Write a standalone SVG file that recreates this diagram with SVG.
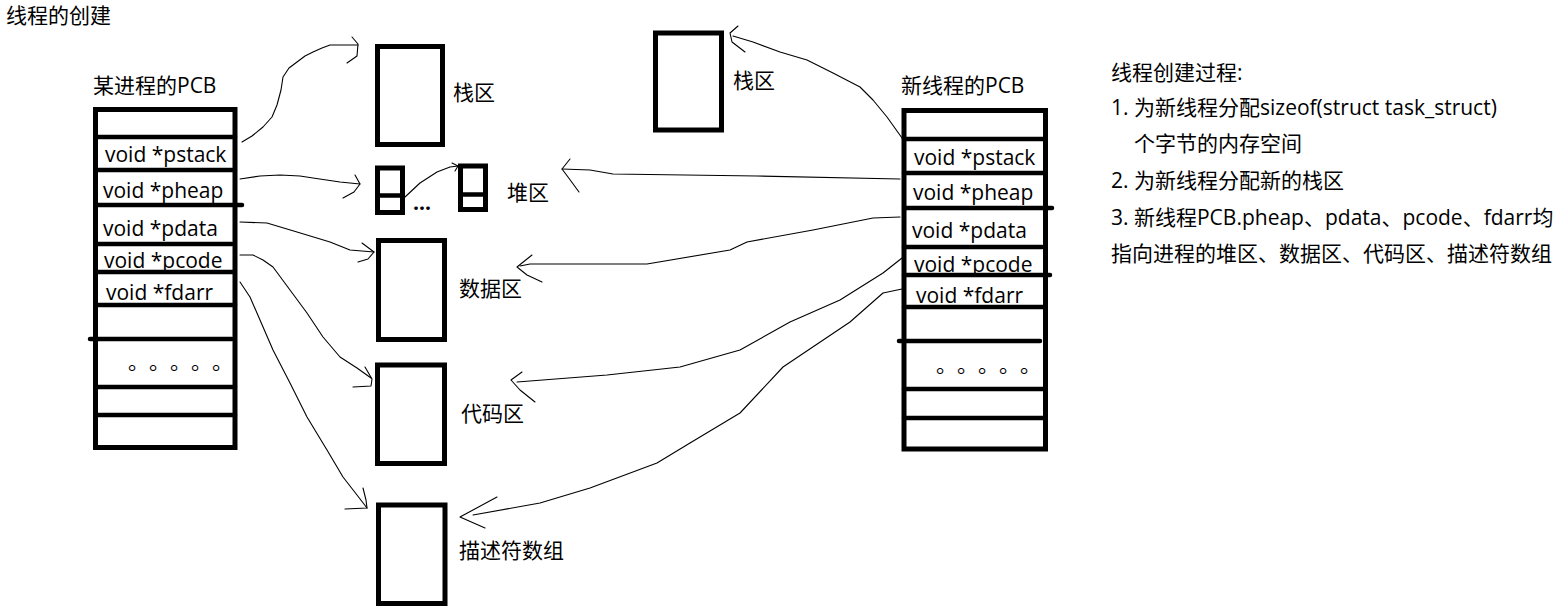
<svg xmlns="http://www.w3.org/2000/svg" width="1566" height="615" viewBox="0 0 1566 615">
<style>
text{font-family:"Open Sans","Noto Sans CJK SC",sans-serif;font-size:21px;fill:#000}
.box{fill:none;stroke:#000;stroke-width:5}
.row{stroke:#000;stroke-width:4.5;stroke-linecap:round}
.conn{fill:none;stroke:#000;stroke-width:1.1;stroke-linejoin:round;stroke-linecap:round}
</style>
<rect width="1566" height="615" fill="#fff"/>
<text id="title" x="6" y="23">线程的创建</text>

<g id="pcb-left">
<text x="93" y="93">某进程的PCB</text>
<rect class="box" x="95.5" y="109.5" width="139.5" height="338"/>
<line class="row" x1="95.5" y1="137" x2="235" y2="137"/>
<line class="row" x1="95.5" y1="170" x2="235" y2="170"/>
<line class="row" x1="95.5" y1="205" x2="242" y2="205"/>
<line class="row" x1="95.5" y1="244" x2="232" y2="244"/>
<line class="row" x1="95.5" y1="272" x2="233" y2="272"/>
<line class="row" x1="95.5" y1="305" x2="235" y2="305"/>
<line class="row" x1="90" y1="339" x2="232" y2="339"/>
<line class="row" x1="95.5" y1="387" x2="235" y2="387"/>
<line class="row" x1="95.5" y1="415" x2="235" y2="415"/>
<text x="105" y="162">void *pstack</text>
<text x="103" y="198">void *pheap</text>
<text x="103" y="236">void *pdata</text>
<text x="104" y="268">void *pcode</text>
<text x="106" y="300">void *fdarr</text>
<text x="128 149 170 191 212" y="369">。。。。。</text>
</g>

<g id="stack-left">
<rect class="box" x="377.5" y="46.5" width="65" height="98"/>
<text x="453" y="100">栈区</text>
</g>

<g id="heap">
<rect class="box" x="377.5" y="168" width="25" height="44.5"/>
<line class="row" x1="377.5" y1="195.5" x2="402.5" y2="195.5"/>
<text x="413" y="210" style="font-weight:bold">...</text>
<rect class="box" x="460.5" y="166" width="25" height="43.5"/>
<line class="row" x1="460.5" y1="194.5" x2="485.5" y2="194.5"/>
<text x="507" y="200">堆区</text>
</g>

<g id="data">
<rect class="box" x="378.5" y="240.5" width="66" height="99"/>
<text x="459" y="296">数据区</text>
</g>

<g id="code">
<rect class="box" x="377.5" y="365" width="67" height="98.5"/>
<text x="461" y="421">代码区</text>
</g>

<g id="fdarr">
<rect class="box" x="378.5" y="505" width="66.5" height="98.5"/>
<text x="459" y="558">描述符数组</text>
</g>

<g id="stack-right">
<rect class="box" x="655.5" y="33" width="66" height="97"/>
<text x="733" y="88">栈区</text>
</g>

<g id="pcb-right">
<text x="901" y="93">新线程的PCB</text>
<rect class="box" x="904" y="110.5" width="141.5" height="338.5"/>
<line class="row" x1="904" y1="139" x2="1045" y2="139"/>
<line class="row" x1="904" y1="173" x2="1045" y2="173"/>
<line class="row" x1="904" y1="208" x2="1052" y2="208"/>
<line class="row" x1="904" y1="247" x2="1042" y2="247"/>
<line class="row" x1="904" y1="275" x2="1050" y2="275"/>
<line class="row" x1="904" y1="307" x2="1045" y2="307"/>
<line class="row" x1="899" y1="341" x2="1040" y2="341"/>
<line class="row" x1="904" y1="389" x2="1045" y2="389"/>
<line class="row" x1="904" y1="418" x2="1045" y2="418"/>
<text x="914" y="165">void *pstack</text>
<text x="913" y="200">void *pheap</text>
<text x="912" y="238">void *pdata</text>
<text x="914" y="272">void *pcode</text>
<text x="916" y="303">void *fdarr</text>
<text x="936 957 978 999 1020" y="372">。。。。。</text>
</g>

<g id="notes">
<text x="1111" y="80">线程创建过程:</text>
<text x="1111" y="115">1. 为新线程分配sizeof(struct task_struct)</text>
<text x="1134" y="151">个字节的内存空间</text>
<text x="1111" y="188">2. 为新线程分配新的栈区</text>
<text x="1111" y="225">3. 新线程PCB.pheap、pdata、pcode、fdarr均</text>
<text x="1111" y="261">指向进程的堆区、数据区、代码区、描述符数组</text>
</g>

<g id="connectors" class="conn">
<path class="conn" d="M242,142 L252,136 263,127 272,117 277,105 281,90 283,77 289,68 297,62 305,56 313,52 322,48 330,45 358,45"/>
<path class="conn" d="M352,37 L358,44 L357,56 L347,63"/>
<path class="conn" d="M240,179 L260,176 280,175 300,176 313,178 340,182 360,184"/>
<path class="conn" d="M355,175 L360,184 L354,192 L343,198"/>
<path class="conn" d="M240,222 L267,223 297,232 330,242 350,250 374,252"/>
<path class="conn" d="M362,243 L374,252 L368,259 L358,262"/>
<path class="conn" d="M240,255 L253,255 263,260 273,267 290,290 307,313 323,337 340,357 357,368 371,378"/>
<path class="conn" d="M365,367 L372,379 L371,386 L353,387"/>
<path class="conn" d="M240,282 L250,297 260,320 273,350 290,383 307,417 327,450 343,477 357,495 367,508"/>
<path class="conn" d="M363,488 L366,500 L367,508 L345,509"/>
<path class="conn" d="M405,197 L420,183 437,172 450,167 458,166"/>
<path class="conn" d="M452,163 L458,166 L455,171"/>
<path class="conn" d="M902,138 L887,117 873,100 860,87 833,73 807,60 780,52 753,42 733,36"/>
<path class="conn" d="M738,26 L730,33 L732,42 L745,52"/>
<path class="conn" d="M900,179 L757,176 613,174 590,170 562,169"/>
<path class="conn" d="M570,159 L562,169 L568,177 L579,192"/>
<path class="conn" d="M900,217 L873,218 813,230 747,242 730,250 647,264 530,264 520,266"/>
<path class="conn" d="M532,255 L517,267 L527,275 L542,282"/>
<path class="conn" d="M902,258 L883,273 840,300 790,322 740,350 680,367 607,375 517,382"/>
<path class="conn" d="M522,372 L511,380 L520,390 L535,402"/>
<path class="conn" d="M902,289 L883,293 850,322 783,367 740,413 690,443 657,463 590,488 540,503 473,515"/>
<path class="conn" d="M497,497 L460,517 L485,528"/>
</g>
</svg>
